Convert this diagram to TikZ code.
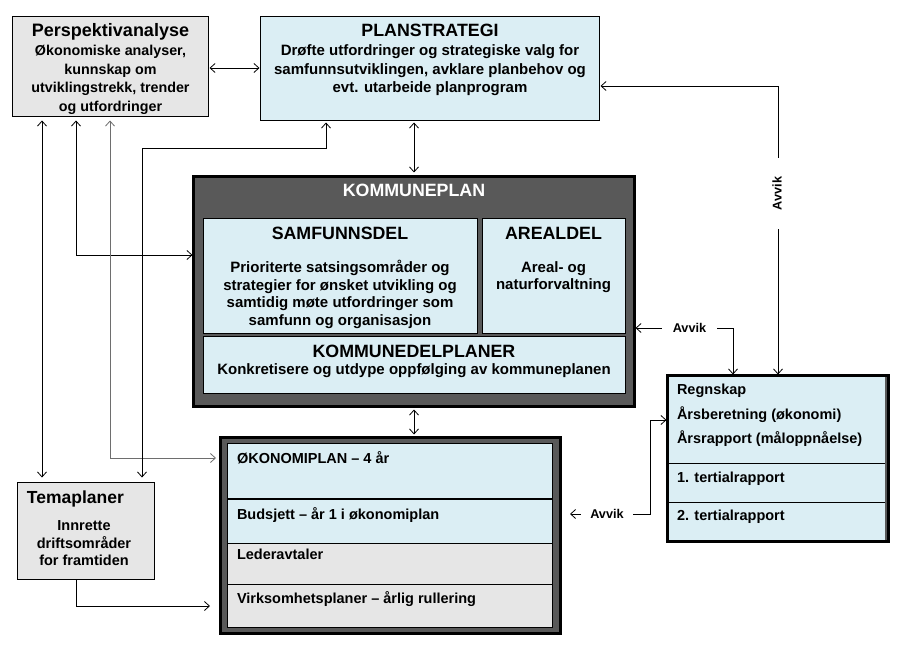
\documentclass[tikz,border=0pt]{standalone}
\usepackage{fontspec}
\setmainfont{Liberation Sans}
\usetikzlibrary{fit,arrows.meta}
\definecolor{lblue}{HTML}{DBEEF4}
\definecolor{lgrey}{HTML}{E6E6E6}
\definecolor{dgrey}{HTML}{595959}
\definecolor{mgrey}{HTML}{6E6E6E}
\newcommand{\fsz}[1]{\fontsize{#1pt}{#1pt}\selectfont\bfseries}
\begin{document}
\begin{tikzpicture}[x=1pt,y=-1pt,
  every node/.style={inner sep=0pt, outer sep=0pt},
  thinbox/.style={draw, line width=0.8pt},
  thickbox/.style={draw, line width=3pt, fill=dgrey},
  ln/.style={line width=0.8pt},
  >={Straight Barb[length=5pt,width=9pt]},
  ttl/.style={anchor=base, font=\fsz{17.8}},
  bdy/.style={anchor=base, font=\fsz{15}},
  bdl/.style={anchor=base west, font=\fsz{14.5}},
  lbl/.style={font=\fsz{12.7}, fill=white, inner ysep=1pt}
]
\fill[white] (0,0) rectangle (902,655);
\useasboundingbox (0,0) rectangle (902,655);

% boxes
\node[thinbox, fill=lgrey, fit={(12.5,16.5)(208.5,116.5)}] (pa) {};
\node[thinbox, fill=lblue, fit={(260.5,16.5)(599.5,120.5)}] (ps) {};
\node[thickbox, fit={(193.5,176.5)(634.5,406.5)}] (kp) {};
\node[thinbox, fill=lblue, fit={(203,218)(477,333)}] (sd) {};
\node[thinbox, fill=lblue, fit={(482,218)(625,333)}] (ad) {};
\node[thinbox, fill=lblue, fit={(203,336)(625,393)}] (kd) {};
\node[thickbox, fit={(220,437.5)(560.5,633.5)}] (ok) {};
\node[thinbox, fill=lblue, fit={(227,443)(552.5,499)}] (ok1) {};
\node[thinbox, fill=lblue, fit={(227,499)(552.5,543)}] (ok2) {};
\node[thinbox, fill=lgrey, fit={(227,543)(552.5,584)}] (ok3) {};
\node[thinbox, fill=lgrey, fit={(227,584)(552.5,627)}] (ok4) {};
\draw[line width=2pt] (ok1.south west) -- (ok1.south east);
\node[thinbox, fill=lgrey, fit={(17.5,482.5)(154.5,579.5)}] (tp) {};
\node[thickbox, fit={(667.5,375.5)(888.5,541.5)}] (rg) {};
\node[fill=lblue, fit={(669,377)(885,540)}] (rgin) {};
\draw[ln] (669,463) -- (885,463);
\draw[ln] (669,502) -- (885,502);

% texts
\node[anchor=base, font=\fsz{18}] (pa1) at (110.5,37) {Perspektivanalyse};
\node[anchor=base, font=\fsz{14.3}] (pa2) at (110.5,55.5) {Økonomiske analyser,};
\node[anchor=base, font=\fsz{14.3}] (pa3) at (110.5,74.5) {kunnskap om};
\node[anchor=base, font=\fsz{14.3}] (pa4) at (110.5,93) {utviklingstrekk, trender};
\node[anchor=base, font=\fsz{14.3}] (pa5) at (110.5,111.5) {og utfordringer};

\node[ttl] (ps1) at (430,37) {PLANSTRATEGI};
\node[bdy] (ps2) at (430,55.5) {Drøfte utfordringer og strategiske valg for};
\node[bdy] (ps3) at (430,75) {samfunnsutviklingen, avklare planbehov og};
\node[bdy] (ps4) at (430,93) {evt. utarbeide planprogram};

\node[ttl, text=white] (kp1) at (414,196.5) {KOMMUNEPLAN};
\node[ttl] (sd1) at (340,240) {SAMFUNNSDEL};
\node[bdy] (sd2) at (340,272.5) {Prioriterte satsingsområder og};
\node[bdy] (sd3) at (340,290) {strategier for ønsket utvikling og};
\node[bdy] (sd4) at (340,307.5) {samtidig møte utfordringer som};
\node[bdy] (sd5) at (340,325) {samfunn og organisasjon};
\node[ttl] (ad1) at (553.5,240) {AREALDEL};
\node[bdy] (ad2) at (553.5,272) {Areal- og};
\node[bdy] (ad3) at (553.5,289.5) {naturforvaltning};
\node[ttl] (kd1) at (414,357) {KOMMUNEDELPLANER};
\node[bdy] (kd2) at (414,374.5) {Konkretisere og utdype oppfølging av kommuneplanen};

\node[bdl] (okt1) at (237,463) {ØKONOMIPLAN – 4 år};
\node[bdl] (okt2) at (237,519) {Budsjett – år 1 i økonomiplan};
\node[bdl] (okt3) at (237,559) {Lederavtaler};
\node[bdl] (okt4) at (237,603) {Virksomhetsplaner – årlig rullering};

\node[anchor=base west, font=\fsz{17.5}] (tp1) at (27,503) {Temaplaner};
\node[anchor=base, font=\fsz{14.5}] (tp2) at (84,530) {Innrette};
\node[anchor=base, font=\fsz{14.5}] (tp3) at (84,548) {driftsområder};
\node[anchor=base, font=\fsz{14.5}] (tp4) at (84,565.5) {for framtiden};

\node[bdl] (rg1) at (677,394) {Regnskap};
\node[bdl] (rg2) at (677,419) {Årsberetning (økonomi)};
\node[bdl] (rg3) at (677,443) {Årsrapport (måloppnåelse)};
\node[bdl] (rg4) at (677,482) {1. tertialrapport};
\node[bdl] (rg5) at (677,520) {2. tertialrapport};

% helper coordinates
\coordinate (h68) at (0,68);
\coordinate (v42) at (42,0);
\coordinate (v414) at (414,0);
\coordinate (b1) at (76,255);
\coordinate (b2) at (110,458);
\coordinate (b3) at (326,148);
\coordinate (b4) at (142,148);
\coordinate (b5) at (76,606);
\coordinate (b6) at (778,86);
\coordinate (b7) at (733,328);
\coordinate (b8) at (650,514);
\coordinate (b9) at (650,420);
\coordinate (b10) at (570,514);

% connectors
\draw[ln, <->, shorten <=1pt, shorten >=1pt] (pa.east |- h68) -- (ps.west |- h68);
\draw[ln, <->, shorten <=4pt, shorten >=5pt] (pa.south -| v42) -- (tp.north -| v42);
\draw[ln, <->, shorten <=4pt, shorten >=1pt] (pa.south -| b1) -- (b1) -- (kp.west |- b1);
\draw[ln, <->, mgrey, shorten <=4pt, shorten >=4pt] (pa.south -| b2) -- (b2) -- (ok.west |- b2);
\draw[ln, <->, shorten <=2pt, shorten >=5pt] (ps.south -| b3) -- (b3) -- (b4) -- (tp.north -| b4);
\draw[ln, ->, shorten >=10pt] (tp.south -| b5) -- (b5) -- (ok.west |- b5);
\draw[ln, <->, shorten <=2pt, shorten >=4pt] (ps.south -| v414) -- (kp.north -| v414);
\draw[ln, <->, shorten <=3pt, shorten >=3pt] (kp.south -| v414) -- (ok.north -| v414);
\draw[ln, <->, shorten <=1pt, shorten >=1pt] (rg.north -| b6) -- (b6) -- (ps.east |- b6);
\draw[ln, <->, shorten <=1pt, shorten >=1pt] (kp.east |- b7) -- (b7) -- (rg.north -| b7);
\draw[ln, <->, shorten >=1pt] (b10) -- (b8) -- (b9) -- (rg.west |- b9);

% labels
\node[lbl, rotate=90, inner xsep=19pt] (av1) at (777,193.5) {Avvik};
\node[lbl, inner xsep=10.5pt] (av2) at (689.5,328) {Avvik};
\node[lbl, inner xsep=9.5pt] (av3) at (607,514) {Avvik};
\end{tikzpicture}
\end{document}
